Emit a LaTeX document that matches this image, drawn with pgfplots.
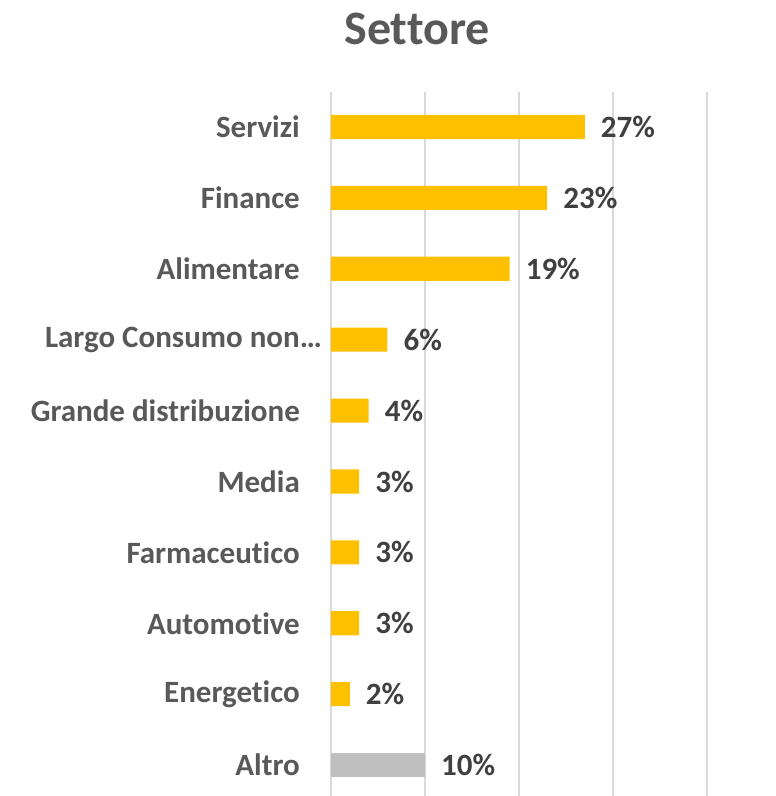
\documentclass[border=0pt]{standalone}
\usepackage{pgfplots}
\pgfplotsset{compat=1.18}
\usepackage{fontspec}
\setmainfont{Carlito}[Ligatures={NoCommon}]
\definecolor{barY}{HTML}{FFC000}
\definecolor{barG}{HTML}{BFBFBF}
\definecolor{txt}{HTML}{595959}
\definecolor{val}{HTML}{404040}
\definecolor{grd}{HTML}{D9D9D9}
\begin{document}
\begin{tikzpicture}[x=1pt,y=1pt]
\useasboundingbox (0,0) rectangle (776,796);
\node[anchor=base, font=\fontsize{48}{56}\selectfont\bfseries, text=txt, inner sep=0pt] at (417,751) {Settore};
\begin{axis}[
  at={(331pt,-4.5pt)}, anchor=south west,
  scale only axis, width=376pt, height=709pt,
  xmin=0, xmax=40, ymin=-0.5, ymax=9.5, y dir=reverse,
  xbar, bar width=0.34, bar shift=0pt,
  xtick={0,10,20,30,40}, xmajorgrids,
  grid style={grd, line width=1.5pt},
  xticklabels={},
  ytick={0,...,9},
  yticklabels={Servizi,Finance,Alimentare,{Largo Consumo non…\hspace*{-22pt}},Grande distribuzione,Media,Farmaceutico,Automotive,Energetico,Altro},
  major tick length=0pt,
  axis line style={draw=none},
  yticklabel style={font=\fontsize{31}{36}\selectfont\bfseries, text=txt, inner sep=0pt, anchor=east, xshift=-31pt},
  point meta=x,
  nodes near coords={\pgfmathprintnumber{\pgfplotspointmeta}\%},
  nodes near coords style={font=\fontsize{31}{36}\selectfont\bfseries, text=val, anchor=west, inner sep=0pt, xshift=16pt},
  /pgf/number format/assume math mode=true,
  clip=false,
]
\addplot[draw=none, fill=barY] coordinates {(27,0) (23,1) (19,2) (6,3) (4,4) (3,5) (3,6) (3,7) (2,8)};
\addplot[draw=none, fill=barG] coordinates {(10,9)};
\end{axis}
\end{tikzpicture}
\end{document}
